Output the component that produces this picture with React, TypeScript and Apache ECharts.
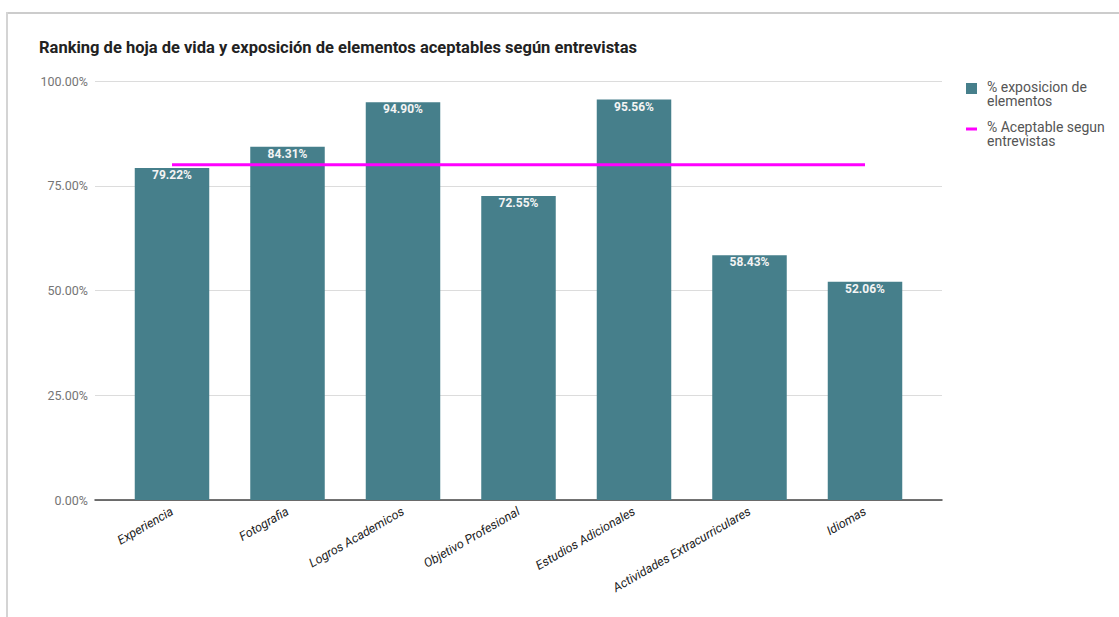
import React, { useEffect, useRef } from "react";
import * as echarts from "echarts";

const categories = [
  "Experiencia",
  "Fotografia",
  "Logros Academicos",
  "Objetivo Profesional",
  "Estudios Adicionales",
  "Actividades Extracurriculares",
  "Idiomas",
];
const exposicion = [79.22, 84.31, 94.9, 72.55, 95.56, 58.43, 52.06];
const aceptable = [80, 80, 80, 80, 80, 80, 80];
const yTicks = [0, 25, 50, 75, 100];
const seriesNames = ["% exposicion de\nelementos", "% Aceptable segun\nentrevistas"];
const titleText = "Ranking de hoja de vida y exposición de elementos aceptables según entrevistas";

const BAR_COLOR = "#467f8b";
const LINE_COLOR = "#ff00ff";
const FONT = "Roboto, 'Noto Sans', sans-serif";

export default function App() {
  const ref = useRef<HTMLDivElement>(null);
  useEffect(() => {
    if (!ref.current) return;
    const chart = echarts.init(ref.current, undefined, { renderer: "svg" });
    const top = 81;
    const bottom = 617 - 500;
    chart.setOption({
      animation: false,
      backgroundColor: "#ffffff",
      textStyle: { fontFamily: FONT },
      title: {
        text: titleText,
        left: 34,
        top: 34,
        textStyle: { fontSize: 16.5, fontWeight: "bold", color: "#222", fontFamily: FONT },
      },
      grid: [
        { left: 95, right: 1119 - 942, top, bottom },
        { left: 114.25, right: 1119 - 922.75, top, bottom },
      ],
      xAxis: [
        {
          type: "value",
          gridIndex: 0,
          min: 0,
          max: 1,
          axisLine: { show: true, onZero: false, lineStyle: { color: "#444", width: 1.5 } },
          axisTick: { show: false },
          axisLabel: { show: false },
          splitLine: { show: false },
        },
        {
          type: "category",
          gridIndex: 1,
          data: categories,
          axisLine: { show: false },
          axisTick: { show: false },
          axisLabel: {
            rotate: 30,
            margin: 10,
            interval: 0,
            fontSize: 12.5,
            fontStyle: "italic",
            color: "#222",
            fontFamily: FONT,
          },
        },
      ],
      yAxis: [
        {
          type: "value",
          gridIndex: 0,
          min: yTicks[0],
          max: yTicks[yTicks.length - 1],
          interval: 25,
          axisLine: { show: false },
          axisTick: { show: false },
          axisLabel: {
            margin: 7,
            fontSize: 12.5,
            color: "#757575",
            fontFamily: FONT,
            formatter: (v: number) => v.toFixed(2) + "%",
          },
          splitLine: { show: true, lineStyle: { color: "#dcdcdc", width: 1 } },
        },
        {
          type: "value",
          gridIndex: 1,
          min: 0,
          max: 100,
          show: false,
          splitLine: { show: false },
        },
      ],
      series: [
        {
          name: seriesNames[0],
          type: "bar",
          xAxisIndex: 1,
          yAxisIndex: 1,
          data: exposicion,
          barWidth: 74.5,
          itemStyle: { color: BAR_COLOR },
          label: {
            show: true,
            position: "insideTop",
            distance: 1,
            color: "#f4f4f4",
            fontSize: 12,
            fontWeight: "bold",
            fontFamily: FONT,
            formatter: (p: any) => Number(p.value).toFixed(2) + "%",
          },
          z: 2,
        },
        {
          name: seriesNames[1],
          type: "line",
          xAxisIndex: 1,
          yAxisIndex: 1,
          data: aceptable,
          symbol: "none",
          lineStyle: { color: LINE_COLOR, width: 3 },
          itemStyle: { color: LINE_COLOR },
          z: 3,
        },
      ],
      graphic: [
        { type: "rect", shape: { x: 6, y: 12, width: 1113, height: 2 }, style: { fill: "#cccccc" } },
        { type: "rect", shape: { x: 6, y: 12, width: 2, height: 605 }, style: { fill: "#d4d4d4" } },
        { type: "rect", shape: { x: 966, y: 83, width: 11, height: 11 }, style: { fill: BAR_COLOR } },
        {
          type: "text",
          x: 987,
          y: 80,
          style: {
            text: seriesNames[0],
            fill: "#555",
            font: "14px Roboto, 'Noto Sans', sans-serif",
            lineHeight: 14,
          },
        },
        { type: "rect", shape: { x: 966, y: 127.5, width: 11, height: 3 }, style: { fill: LINE_COLOR } },
        {
          type: "text",
          x: 987,
          y: 120,
          style: {
            text: seriesNames[1],
            fill: "#555",
            font: "14px Roboto, 'Noto Sans', sans-serif",
            lineHeight: 14,
          },
        },
      ],
    });
    return () => chart.dispose();
  }, []);
  return (
    <div
      ref={ref}
      style={{ position: "absolute", left: 0, top: 0, width: 1119, height: 617 }}
    />
  );
}
